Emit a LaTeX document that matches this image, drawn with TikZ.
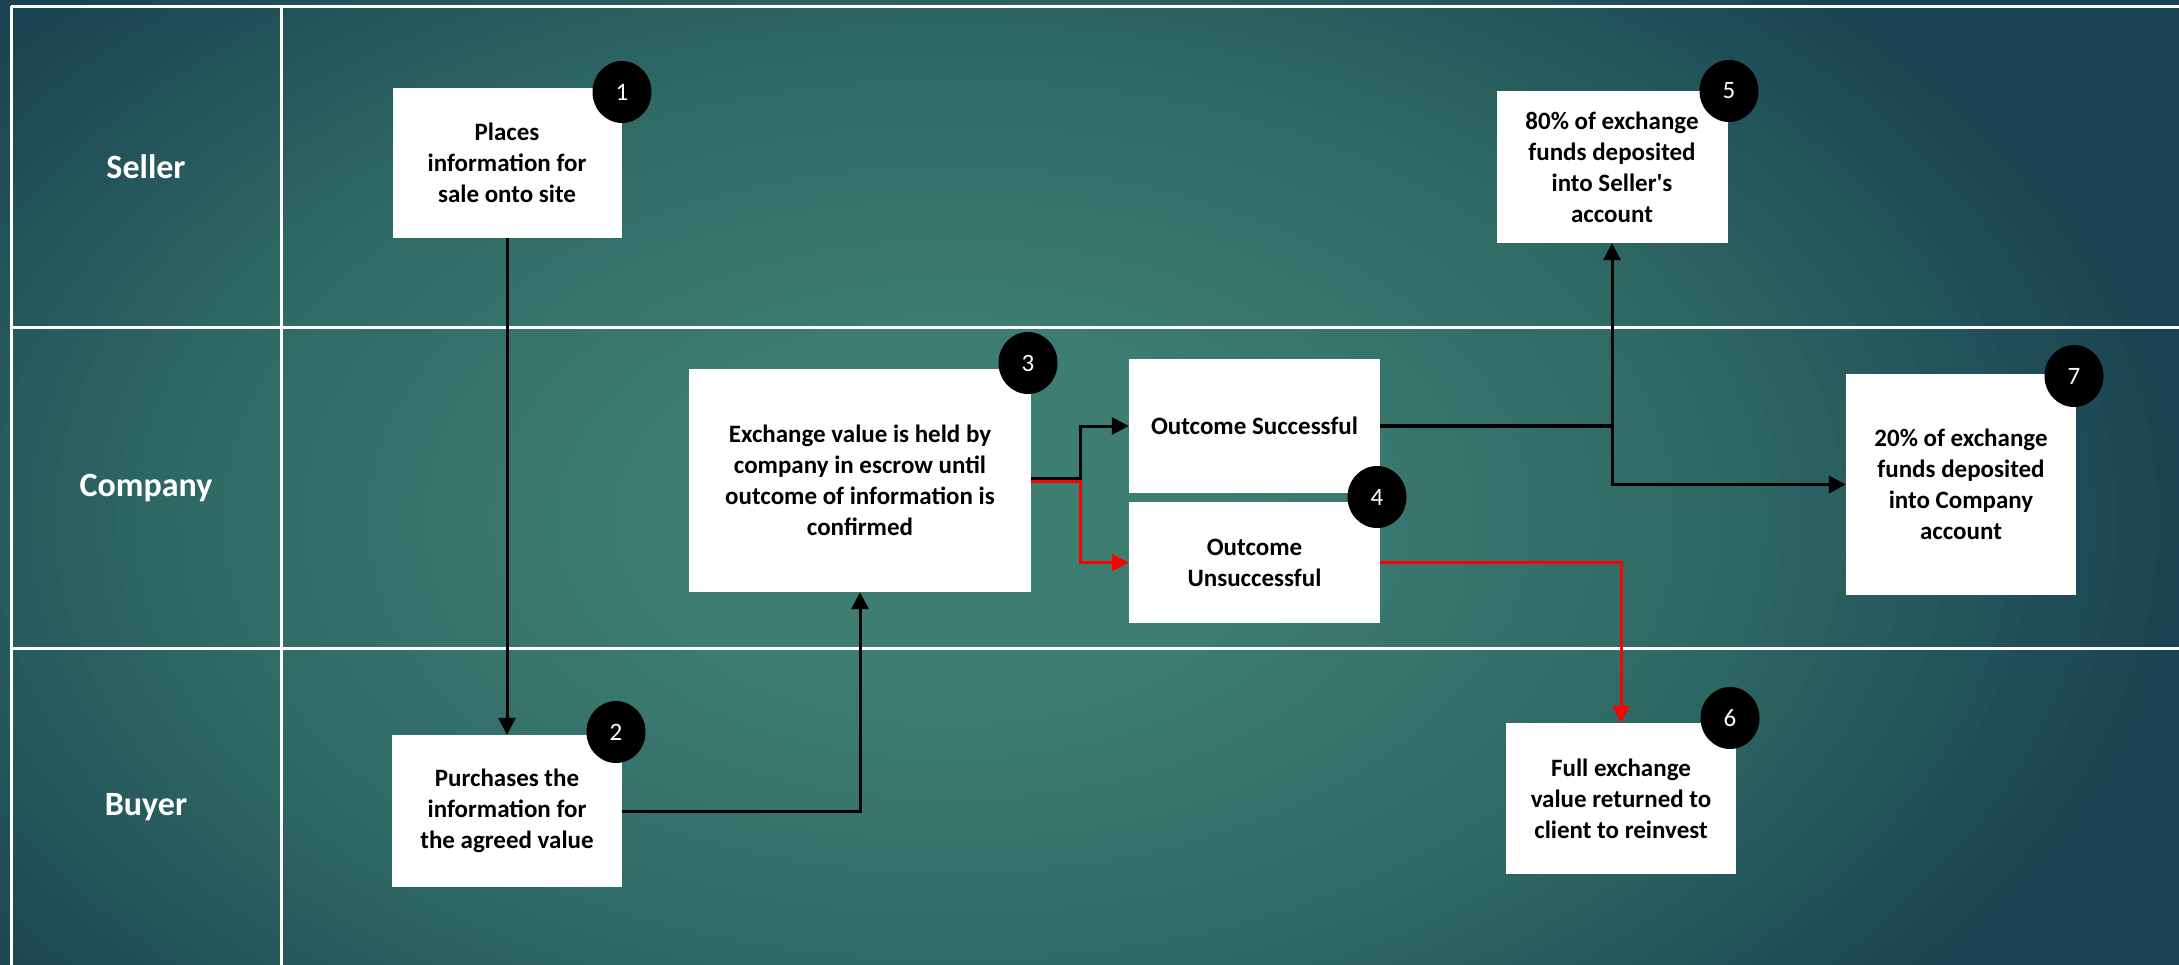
\documentclass[tikz,border=0pt]{standalone}
\usepackage{fontspec}
\setmainfont{Carlito}
\usetikzlibrary{arrows.meta,shapes.geometric}
\definecolor{bgin}{HTML}{3D7D72}
\definecolor{bgmid}{HTML}{2E6864}
\definecolor{bgout}{HTML}{1A4252}
\definecolor{arrred}{HTML}{FF0000}
\begin{document}
\begin{tikzpicture}[x=1pt,y=-1pt,
  box/.style={fill=white, draw=none, align=center, text=black, inner sep=0pt,
    font=\bfseries\fontsize{25}{31}\selectfont},
  num/.style={ellipse, fill=black, minimum width=59pt, minimum height=62pt, inner sep=0pt,
    text=white, font=\fontsize{25}{30}\selectfont},
  lane/.style={text=white, font=\bfseries\fontsize{34}{40}\selectfont},
  gridline/.style={draw=white, line width=3pt},
  conn/.style={draw=black, line width=3pt, -{Triangle[length=17pt,width=17pt]}},
  redconn/.style={draw=arrred, line width=3pt, -{Triangle[length=17pt,width=17pt]}}]
\useasboundingbox (0,0) rectangle (2179,964);
% background: radial gradient built from concentric ellipses
\begin{scope}
\clip (-6,-6) rectangle (2185,970);
\fill[bgout] (-6,-6) rectangle (2185,970);
\foreach \i in {0,...,59}{
  \pgfmathsetmacro{\t}{1.0-\i/60}
  \pgfmathsetmacro{\pa}{max(0,min(100,(1-\t)/0.36*100))}
  \pgfmathsetmacro{\pb}{max(0,min(100,(0.64-\t)/0.40*100))}
  \ifdim\t pt<0.64pt \colorlet{cc}{bgin!\pb!bgmid}\else\colorlet{cc}{bgmid!\pa!bgout}\fi
  \fill[cc] (950,520) ellipse [x radius=1250*\t, y radius=760*\t];
}
\end{scope}
% swimlane grid
\draw[gridline] (11,6) -- (2185,6);
\draw[gridline] (11,327) -- (2185,327);
\draw[gridline] (11,648) -- (2185,648);
\draw[gridline] (11,6) -- (11,970);
\draw[gridline] (281,6) -- (281,970);
% lane labels
\node[lane] (lseller) at (146,166.5) {Seller};
\node[lane] (lcompany) at (146,488) {Company};
\node[lane] (lbuyer) at (146,807) {Buyer};
% boxes
\node[box, minimum width=229pt, minimum height=150pt] (b1) at (507,163) {Places\\information for\\sale onto site};
\node[box, minimum width=230pt, minimum height=152pt] (b2) at (507,811) {Purchases the\\information for\\the agreed value};
\node[box, minimum width=342pt, minimum height=223pt] (b3) at (860,480.5) {Exchange value is held by\\company in escrow until\\outcome of information is\\confirmed};
\node[box, minimum width=251pt, minimum height=134pt] (b4s) at (1254.5,426) {Outcome Successful};
\node[box, minimum width=251pt, minimum height=121pt] (b4u) at (1254.5,562.5) {Outcome\\Unsuccessful};
\node[box, minimum width=231pt, minimum height=152pt] (b5) at (1612,167) {80\% of exchange\\funds deposited\\into Seller\textquotesingle s\\account};
\node[box, minimum width=230pt, minimum height=151pt] (b6) at (1621,798.5) {Full exchange\\value returned to\\client to reinvest};
\node[box, minimum width=230pt, minimum height=221pt] (b7) at (1961,484.5) {20\% of exchange\\funds deposited\\into Company\\account};
% connectors
\coordinate (fork) at (1080,480.5);
\coordinate (junc) at (b4s.east -| b5.south);
\draw[conn] (b1.south) -- (b2.north);
\draw[conn] (b2.east) -| (b3.south);
\draw[conn] ([yshift=2pt]b3.east) -| (fork |- b4s.west) -- (b4s.west);
\draw[redconn] ([yshift=-1pt]b3.east) -| (fork |- b4u.west) -- (b4u.west);
\draw[draw=black, line width=4pt] (b4s.east) -- (junc);
\draw[conn] (junc) -- (b5.south);
\draw[conn] (junc) |- (b7.west);
\draw[redconn] (b4u.east) -| (b6.north);
% step numbers
\node[num] (n1) at (622,92) {1};
\node[num] (n2) at (616,732) {2};
\node[num] (n3) at (1028,363) {3};
\node[num] (n4) at (1377,497) {4};
\node[num] (n5) at (1729,91) {5};
\node[num] (n6) at (1730,718) {6};
\node[num] (n7) at (2074,376) {7};
\end{tikzpicture}
\end{document}
